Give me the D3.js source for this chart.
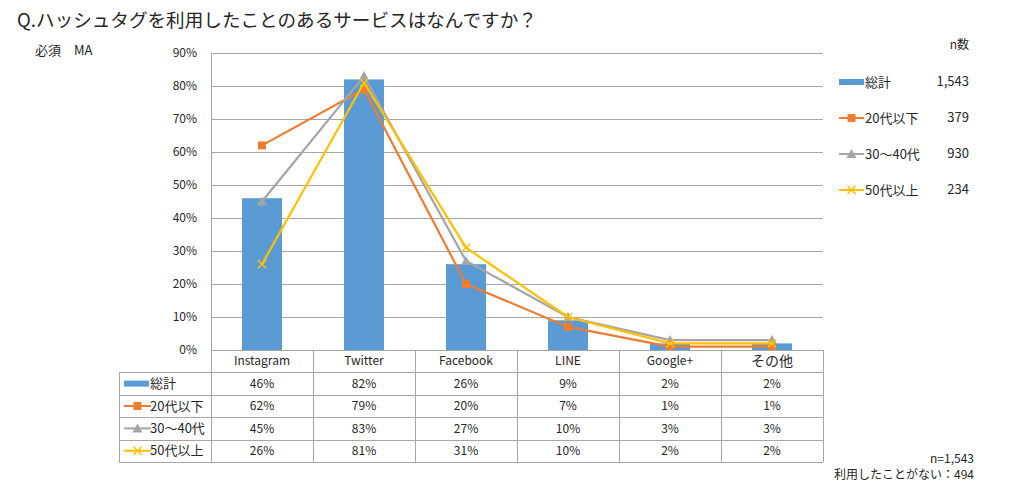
<!DOCTYPE html>
<html><head><meta charset="utf-8">
<script src="https://cdn.jsdelivr.net/npm/d3@7"></script>
<style>
body{margin:0;background:#fff;}
svg{display:block;font-family:"Noto Sans CJK JP","Noto Sans",sans-serif;}
</style></head>
<body><svg id="c" width="1024" height="486"></svg>
<script>
const categories = ["Instagram","Twitter","Facebook","LINE","Google+","その他"];
const seriesNames = ["総計","20代以下","30〜40代","50代以上"];
const seriesN = ["1,543","379","930","234"];
const total = [46,82,26,9,2,2];
const age20 = [62,79,20,7,1,1];
const age3040 = [45,83,27,10,3,3];
const age50 = [26,81,31,10,2,2];
const yTicks = [0,10,20,30,40,50,60,70,80,90];
const titleText = "Q.ハッシュタグを利用したことのあるサービスはなんですか？";
const subText = "必須　MA";
const noteLines = ["n=1,543","利用したことがない：494"];

const colors = ["#5B9BD5","#ED7D31","#A5A5A5","#FFC000"];
const lineSeries = [age20, age3040, age50];
const allRows = [total, age20, age3040, age50];

const svg = d3.select("#c");
const L = 211, R = 823, T = 53, B = 350;
const x = d3.scaleBand().domain(categories).range([L,R]).padding(0);
const y = d3.scaleLinear().domain([0,90]).range([B,T]);
const gridCol = "#A6A6A6";
const txt = "#262626";

// title
svg.append("text").attr("x",17).attr("y",27).attr("font-size",18.6).attr("fill",txt).text(titleText);
svg.append("text").attr("x",35).attr("y",55).attr("font-size",13).attr("fill",txt).text(subText);

// gridlines
svg.append("g").selectAll("line").data(yTicks.filter(d=>d>0)).join("line")
  .attr("x1",L).attr("x2",R).attr("y1",d=>y(d)+0.5).attr("y2",d=>y(d)+0.5)
  .attr("stroke",gridCol).attr("stroke-width",1);
svg.append("line").attr("x1",L+0.5).attr("x2",L+0.5).attr("y1",T).attr("y2",B).attr("stroke",gridCol);

// y axis labels
const yAxis = d3.axisLeft(y).tickValues(yTicks).tickFormat(d=>d+"%").tickSize(0).tickPadding(0);
const ya = svg.append("g").attr("transform",`translate(${197},0)`).call(yAxis);
ya.select(".domain").remove();
ya.selectAll("text").attr("font-size",12).attr("fill",txt).attr("font-family",'"Noto Sans CJK JP",sans-serif');

// bars
const bw = 40;
svg.append("g").selectAll("rect").data(total).join("rect")
  .attr("x",(d,i)=>x(categories[i])+x.bandwidth()/2-bw/2)
  .attr("width",bw)
  .attr("y",d=>y(d)).attr("height",d=>B-y(d))
  .attr("fill",colors[0]);

// lines
const cx = i => x(categories[i])+x.bandwidth()/2;
const lineGen = d3.line().x((d,i)=>cx(i)).y(d=>y(d));
function marker(g, type, color, px, py){
  if(type===1){
    g.append("rect").attr("x",px-4).attr("y",py-4).attr("width",8).attr("height",8).attr("fill",color);
  } else if(type===2){
    g.append("path").attr("d",`M${px},${py-5}L${px+5},${py+4}L${px-5},${py+4}Z`).attr("fill",color);
  } else if(type===3){
    g.append("path").attr("d",`M${px-4},${py-4}L${px+4},${py+4}M${px-4},${py+4}L${px+4},${py-4}`).attr("stroke",color).attr("stroke-width",1.5);
  }
}
lineSeries.forEach((s,k)=>{
  const g = svg.append("g");
  g.append("path").datum(s).attr("d",lineGen).attr("fill","none")
    .attr("stroke",colors[k+1]).attr("stroke-width",2.2).attr("stroke-linejoin","round");
  s.forEach((v,i)=>marker(g,k+1,colors[k+1],cx(i),y(v)));
});

// table
const rowH = 22.4;
const tL = 119;
const hdrTop = B;
const tableBottom = hdrTop + rowH*5;
const tg = svg.append("g");
for(let r=0;r<=5;r++){
  const yy = Math.round(hdrTop + rowH*r)+0.5;
  tg.append("line").attr("x1", r===0? L : tL).attr("x2",R).attr("y1",yy).attr("y2",yy).attr("stroke",gridCol);
}
const vx = [L].concat(categories.map(c=>x(c)+x.bandwidth()));
vx.forEach(v=>{
  tg.append("line").attr("x1",Math.round(v)+0.5).attr("x2",Math.round(v)+0.5).attr("y1",hdrTop).attr("y2",tableBottom).attr("stroke",gridCol);
});
tg.append("line").attr("x1",tL+0.5).attr("x2",tL+0.5).attr("y1",hdrTop+rowH).attr("y2",tableBottom).attr("stroke",gridCol);
categories.forEach((c,i)=>{
  tg.append("text").attr("x",cx(i)).attr("y",hdrTop+rowH/2+1).attr("text-anchor","middle")
    .attr("dominant-baseline","middle").attr("font-size", c==="その他"?14:12).attr("fill",txt).text(c);
});
allRows.forEach((row,r)=>{
  const yy = hdrTop + rowH*(r+1) + rowH/2 + 1;
  row.forEach((v,i)=>{
    tg.append("text").attr("x",cx(i)).attr("y",yy).attr("text-anchor","middle")
      .attr("dominant-baseline","middle").attr("font-size",12).attr("fill",txt).text(v+"%");
  });
  const ky = hdrTop + rowH*(r+1) + rowH/2;
  if(r===0){
    tg.append("rect").attr("x",124).attr("y",ky-3).attr("width",25).attr("height",6).attr("fill",colors[0]);
  } else {
    tg.append("line").attr("x1",124).attr("x2",151).attr("y1",ky).attr("y2",ky).attr("stroke",colors[r]).attr("stroke-width",2);
    marker(tg,r,colors[r],137.5,ky);
  }
  tg.append("text").attr("x",150).attr("y",yy).attr("dominant-baseline","middle").attr("font-size",13).attr("fill",txt).text(seriesNames[r]);
});

// right legend
const lg = svg.append("g");
lg.append("text").attr("x",969).attr("y",49).attr("text-anchor","end").attr("font-size",12).attr("fill",txt).text("n数");
const legY = [82,118,154,190];
seriesNames.forEach((nm,r)=>{
  const ly = legY[r];
  if(r===0){
    lg.append("rect").attr("x",839).attr("y",ly-3).attr("width",25).attr("height",6).attr("fill",colors[0]);
  } else {
    lg.append("line").attr("x1",839).attr("x2",864).attr("y1",ly).attr("y2",ly).attr("stroke",colors[r]).attr("stroke-width",2);
    marker(lg,r,colors[r],851.5,ly);
  }
  lg.append("text").attr("x",865).attr("y",ly+1).attr("dominant-baseline","middle").attr("font-size",13).attr("fill",txt).text(nm);
  lg.append("text").attr("x",969).attr("y",ly).attr("dominant-baseline","middle").attr("text-anchor","end").attr("font-size",13).attr("fill",txt).text(seriesN[r]);
});

// notes
noteLines.forEach((t,i)=>{
  svg.append("text").attr("x",974).attr("y",463+i*15.5).attr("text-anchor","end").attr("font-size",12).attr("fill",txt).text(t);
});
</script></body></html>
